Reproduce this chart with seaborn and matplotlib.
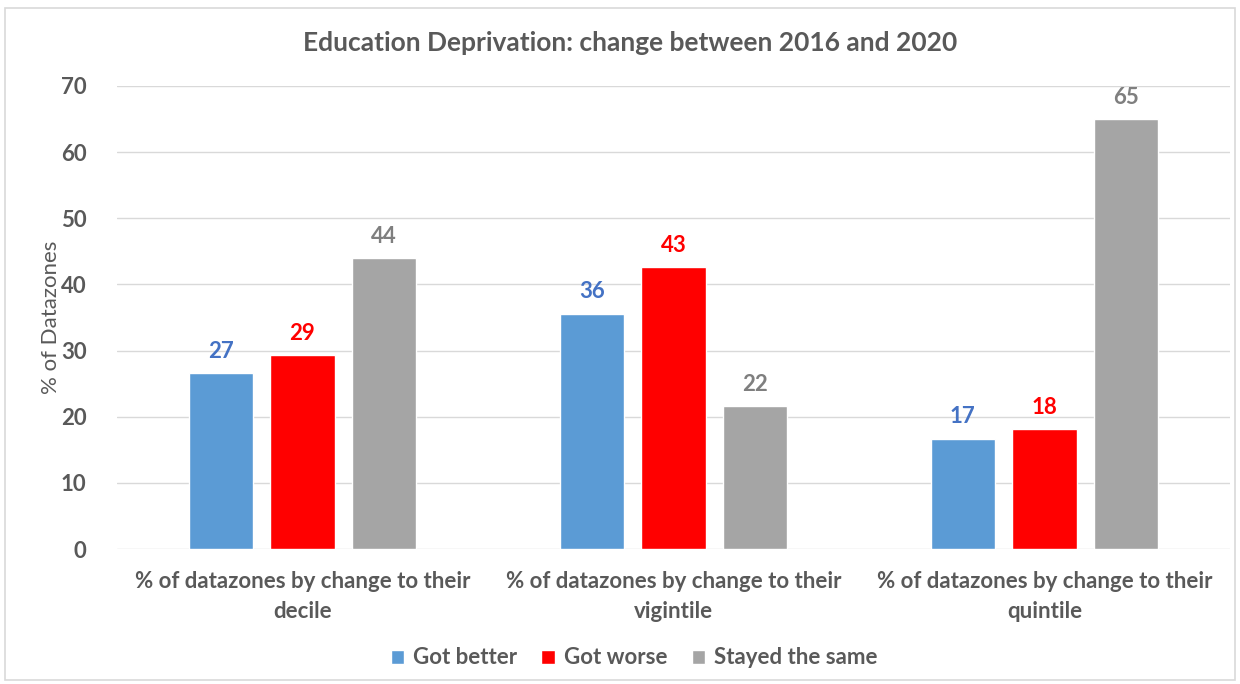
import matplotlib
matplotlib.use("Agg")
import matplotlib.pyplot as plt
from matplotlib.patches import Rectangle
import pandas as pd
import seaborn as sns

categories = [
    "% of datazones by change to their\ndecile",
    "% of datazones by change to their\nvigintile",
    "% of datazones by change to their\nquintile",
]
series_names = ["Got better", "Got worse", "Stayed the same"]
got_better = [26.6, 35.6, 16.7]
got_worse = [29.35, 42.6, 18.1]
stayed_same = [44.05, 21.6, 65.05]
y_ticks = [0, 10, 20, 30, 40, 50, 60, 70]

bar_colors = ["#5B9BD5", "#FF0000", "#A5A5A5"]
label_colors = ["#4472C4", "#FF0000", "#7F7F7F"]
text_color = "#595959"
fs = 16

sns.set_theme(style="white")
plt.rcParams["font.family"] = ["Lato", "DejaVu Sans"]

df = pd.DataFrame({
    "category": categories * 3,
    "series": [s for s in series_names for _ in categories],
    "value": got_better + got_worse + stayed_same,
})

fig = plt.figure(figsize=(12.4, 6.84), dpi=100)
ax = fig.add_axes([117 / 1240, 135 / 684, 1113 / 1240, 463 / 684])

sns.barplot(data=df, x="category", y="value", hue="series",
            order=categories, hue_order=series_names, palette=bar_colors,
            width=0.66, gap=0.21, saturation=1, ax=ax, legend=True)

for cont, col in zip(ax.containers, label_colors):
    ax.bar_label(cont, labels=[f"{v:.0f}" for v in cont.datavalues],
                 padding=8, color=col, fontsize=fs, fontweight="bold")

ax.set_ylim(0, 70)
ax.set_yticks(y_ticks)
ax.set_xlim(-0.5, 2.5)
ax.grid(axis="y", color="#D9D9D9", linewidth=1)
ax.set_axisbelow(True)
for side in ["top", "right", "left", "bottom"]:
    ax.spines[side].set_visible(False)
ax.tick_params(axis="both", length=0, colors=text_color, labelsize=fs)
ax.tick_params(axis="y", pad=22)
ax.tick_params(axis="x", pad=16)
for lbl in ax.get_xticklabels() + ax.get_yticklabels():
    lbl.set_fontweight("bold")
    lbl.set_color(text_color)
for lbl in ax.get_xticklabels():
    lbl.set_linespacing(1.5)
ax.set_xlabel("")
ax.set_ylabel("% of Datazones", fontsize=fs, color=text_color, labelpad=0)

fig.text(630 / 1240, 1 - 43 / 684,
         "Education Deprivation: change between 2016 and 2020",
         ha="center", va="center", fontsize=19, fontweight="bold",
         color=text_color)

ax.legend_.remove()
handles, labels = ax.get_legend_handles_labels()
leg = fig.legend(handles, labels, loc="center",
                 bbox_to_anchor=(634 / 1240, 26 / 684),
                 ncol=3, frameon=False, fontsize=fs, handlelength=0.6,
                 handleheight=0.6, handletextpad=0.4, columnspacing=1.1)
for t in leg.get_texts():
    t.set_color(text_color)
    t.set_fontweight("bold")

fig.patches.append(Rectangle((5 / 1240, 4 / 684), 1230 / 1240, 672 / 684,
                             transform=fig.transFigure, fill=False,
                             edgecolor="#D9D9D9", linewidth=1.2))

fig.savefig("out.png", dpi=100, facecolor="white")
